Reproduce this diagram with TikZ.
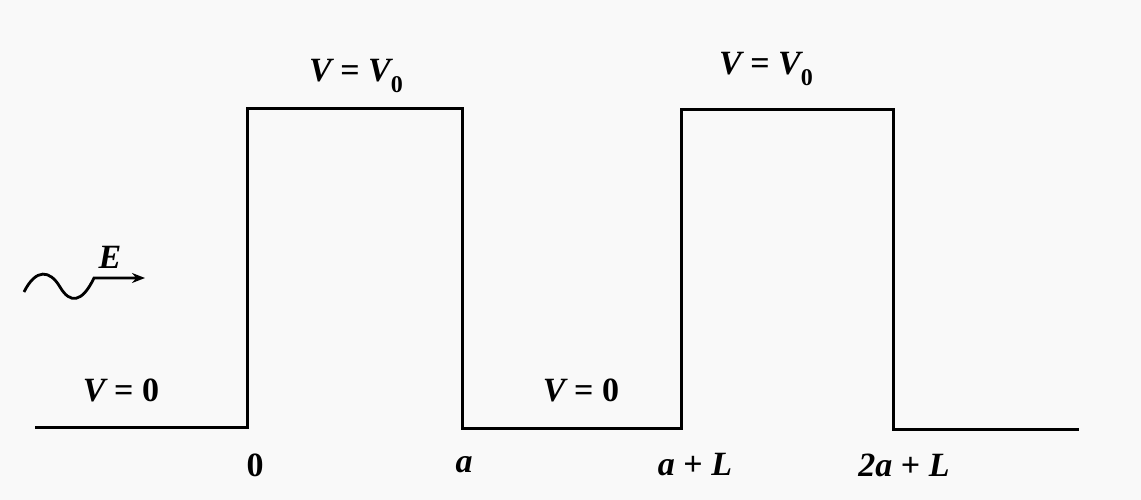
\documentclass[tikz,border=0pt]{standalone}
\usepackage{fontspec}
\setmainfont{Liberation Serif}
\usetikzlibrary{arrows.meta}
\newcommand{\sub}[1]{\raisebox{-0.3em}{\fontsize{24}{24}\selectfont\upshape #1}}
\newcommand{\up}[1]{{\upshape #1}}
\newcommand{\eqsp}{\hspace{0.25em}}
\begin{document}
\begin{tikzpicture}[x=1pt,y=-1pt,
  lbl/.style={font=\fontsize{34}{36}\selectfont\bfseries\itshape, inner sep=0pt, anchor=center},
  pot/.style={line width=3pt, line join=miter},
  wave/.style={line width=2.8pt, -{Stealth[length=13pt,width=10pt]}}]
\fill[gray!5] (0,0) rectangle (1141,500);
\useasboundingbox (0,0) rectangle (1141,500);
% potential profile
\coordinate (p0) at (35,427);
\coordinate (p1) at (247,427);
\coordinate (p2) at (247,109);
\coordinate (p3) at (462,109);
\coordinate (p4) at (462,428);
\coordinate (p5) at (681,428);
\coordinate (p6) at (681,110);
\coordinate (p7) at (893,110);
\coordinate (p8) at (893,429);
\coordinate (p9) at (1079,429);
\draw[pot] (p0) -- (p1) -- (p2) -- (p3) -- (p4) -- (p5) -- (p6) -- (p7) -- (p8) -- (p9);
% incoming wave
\coordinate (w0) at (24,292);
\coordinate (w1) at (94,278);
\coordinate (w2) at (145,278);
\draw[wave] (w0) .. controls (36,268) and (50,270) .. (60,287)
  .. controls (70,304) and (82,303) .. (w1) -- (w2);
\node[lbl] (E) at (110,257) {E};
% labels
\node[lbl] (vv0a) at (356,76) {V\eqsp\up{=}\eqsp V\sub{0}};
\node[lbl] (vv0b) at (766,69) {V\eqsp\up{=}\eqsp V\sub{0}};
\node[lbl] (v0a) at (121,390) {V\eqsp\up{=}\eqsp\up{0}};
\node[lbl] (v0b) at (581,390) {V\eqsp\up{=}\eqsp\up{0}};
\node[lbl] (x0) at (255,465) {\up{0}};
\node[lbl] (xa) at (464,465) {a};
\node[lbl] (xaL) at (695,465) {a\eqsp\up{+}\eqsp L};
\node[lbl] (x2aL) at (904,465) {2a\eqsp\up{+}\eqsp L};
\end{tikzpicture}
\end{document}
